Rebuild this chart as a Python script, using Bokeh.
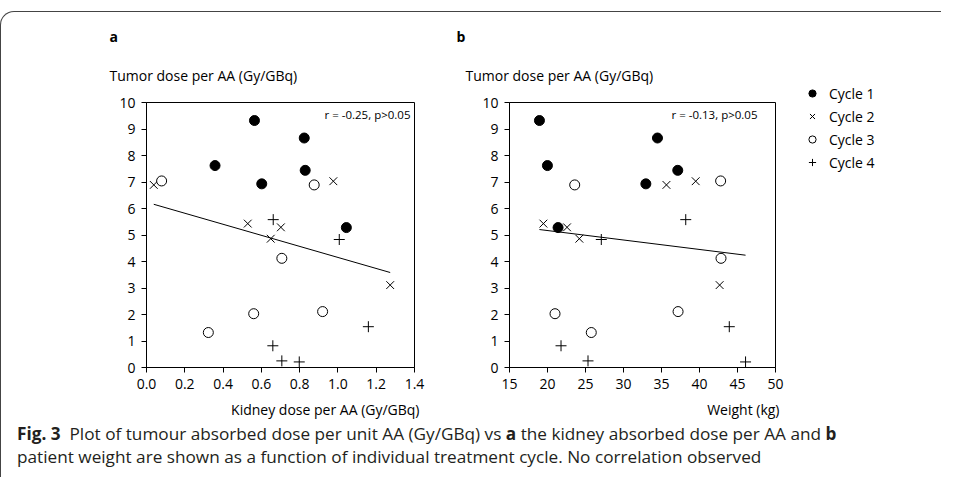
import numpy as np
from bokeh.plotting import figure
from bokeh.models import (Range1d, FixedTicker, NumeralTickFormatter, Label,
                          Legend, LegendItem, Div, Title, Spacer)
from bokeh.layouts import column, row
from bokeh.embed import file_html
from bokeh.resources import INLINE

# ---------------- data ----------------
cycles = ["Cycle 1", "Cycle 2", "Cycle 3", "Cycle 4"]
tumor_c1 = [9.32, 8.66, 7.62, 7.44, 6.93, 5.28]
tumor_c2 = [6.89, 7.03, 5.43, 5.29, 4.86, 3.11]
tumor_c3 = [7.04, 6.89, 4.12, 2.03, 1.32, 2.11]
tumor_c4 = [5.58, 4.83, 0.82, 0.25, 0.21, 1.54]

kidney_c1 = [0.564, 0.824, 0.358, 0.829, 0.602, 1.044]
kidney_c2 = [0.038, 0.976, 0.529, 0.702, 0.649, 1.273]
kidney_c3 = [0.079, 0.876, 0.707, 0.560, 0.323, 0.920]
kidney_c4 = [0.662, 1.007, 0.660, 0.707, 0.798, 1.159]

weight_c1 = [18.94, 34.47, 19.99, 37.14, 32.94, 21.39]
weight_c2 = [35.65, 39.50, 19.46, 22.57, 24.19, 42.65]
weight_c3 = [42.78, 23.58, 42.83, 20.99, 25.76, 37.18]
weight_c4 = [38.19, 27.08, 21.78, 25.33, 46.06, 43.92]

kidney_ticks = [0.0, 0.2, 0.4, 0.6, 0.8, 1.0, 1.2, 1.4]
weight_ticks = [15, 20, 25, 30, 35, 40, 45, 50]
tumor_ticks = list(range(0, 11))

ytitle = "Tumor dose per AA (Gy/GBq)"
stats_a = "r = -0.25, p>0.05"
stats_b = "r = -0.13, p>0.05"

FONT = "Open Sans"
TUMOR = [tumor_c1, tumor_c2, tumor_c3, tumor_c4]
WEIGHT = [weight_c1, weight_c2, weight_c3, weight_c4]
MARKERS = [dict(marker="circle", size=10, fill_color="black", line_color="black"),
           dict(marker="x", size=11, line_color="black", line_width=1),
           dict(marker="circle", size=10, fill_color="white", line_color="black",
                line_width=1),
           dict(marker="cross", size=11, line_color="black", line_width=1)]

H = 416  # 90 top + 265 frame + 61 bottom


def make_panel(xs, xr, xticks, fmt, width, bl, br, letter, xtitle, stats,
               stats_x, letter_off, title_off, xtitle_off):
    p = figure(width=width, height=H, output_backend="svg",
               toolbar_location=None, x_range=Range1d(*xr), y_range=Range1d(0, 10),
               min_border_left=bl, min_border_right=br, min_border_top=90,
               min_border_bottom=61)
    p.xgrid.visible = False
    p.ygrid.visible = False
    p.outline_line_color = "black"
    p.outline_line_width = 1
    p.background_fill_color = None
    p.border_fill_color = None
    for ax, ticks in ((p.xaxis[0], xticks), (p.yaxis[0], tumor_ticks)):
        ax.ticker = FixedTicker(ticks=ticks)
        ax.minor_tick_line_color = None
        ax.major_tick_in = 0
        ax.major_tick_out = 5
        ax.axis_line_color = "black"
        ax.major_tick_line_color = "black"
        ax.major_label_text_font = FONT
        ax.major_label_text_font_size = "14px"
        ax.major_label_text_color = "black"
        ax.major_label_standoff = 6
    if fmt:
        p.xaxis[0].formatter = NumeralTickFormatter(format=fmt)

    for xv, yv, mk in zip(xs, TUMOR, MARKERS):
        p.scatter(xv, yv, **mk)

    allx = np.concatenate([np.asarray(v, float) for v in xs])
    ally = np.concatenate([np.asarray(v, float) for v in TUMOR])
    slope, icpt = np.polyfit(allx, ally, 1)
    lx = np.array([allx.min(), allx.max()])
    p.line(lx, slope * lx + icpt, line_color="black", line_width=1)

    p.add_layout(Label(x=stats_x, y=253, x_units="screen", y_units="screen",
                       text=stats, text_font=FONT, text_font_size="11.5px",
                       text_align="right", text_baseline="middle",
                       text_color="black"))

    # header texts (closest to the frame first)
    p.add_layout(Title(text=ytitle, align="left", offset=title_off, standoff=36,
                       text_font=FONT, text_font_size="14px",
                       text_font_style="normal", text_color="black"), "above")
    p.add_layout(Title(text=letter, align="left", offset=letter_off, standoff=0,
                       text_font=FONT, text_font_size="14px",
                       text_font_style="bold", text_color="black"), "above")
    p.add_layout(Title(text=xtitle, align="right", offset=xtitle_off, standoff=12,
                       text_font=FONT, text_font_size="14px",
                       text_font_style="normal", text_color="black"), "below")
    return p


pa = make_panel([kidney_c1, kidney_c2, kidney_c3, kidney_c4], (0, 1.4),
                kidney_ticks, "0.0", 436, 145, 23, "a",
                "Kidney dose per AA (Gy/GBq)", stats_a, 264, -37, -37, -5)
pb = make_panel(WEIGHT, (15, 50),
                weight_ticks, None, 348, 72, 10, "b", "Weight (kg)", stats_b,
                248, -53, -44, -4)

# legend panel: the cycle series again (outside its view), only their legend shows
pl = figure(width=153, height=100, output_backend="svg", toolbar_location=None,
            x_range=Range1d(0, 1), y_range=Range1d(0, 1), x_axis_type=None,
            y_axis_type=None, min_border_left=18, min_border_right=0,
            min_border_top=0, min_border_bottom=0)
pl.grid.visible = False
pl.outline_line_color = None
pl.background_fill_color = None
pl.border_fill_color = None
rends = [pl.scatter(xv, yv, **mk) for xv, yv, mk in zip(WEIGHT, TUMOR, MARKERS)]
leg = Legend(items=[LegendItem(label=c, renderers=[r]) for c, r in zip(cycles, rends)],
             location="top_left", orientation="vertical",
             label_text_font=FONT, label_text_font_size="14px",
             label_text_color="black", glyph_width=18, glyph_height=20,
             label_height=20, spacing=3, padding=0, margin=0,
             label_standoff=8, border_line_color=None, background_fill_alpha=0)
pl.add_layout(leg, "center")
legend_col = column(Spacer(height=71, width=10), pl)

caption = Div(
    text=('<b>Fig. 3</b>&nbsp; Plot of tumour absorbed dose per unit AA (Gy/GBq) vs '
          '<b>a</b> the kidney absorbed dose per AA and <b>b</b><br>'
          'patient weight are shown as a function of individual treatment cycle. '
          'No correlation observed'),
    width=930, height=50,
    styles={"font-family": "Open Sans", "font-size": "17.2px", "line-height": "23px",
            "color": "#231f20", "padding-left": "11px", "margin-top": "-6px",
            "white-space": "nowrap"})

boxed = column(row(pa, pb, legend_col), caption,
               styles={"border-top": "1px solid #444", "border-left": "1px solid #444",
                       "border-top-left-radius": "14px"})
layout = column(Spacer(height=11, width=10), boxed)

open("out.html", "w").write(file_html(layout, INLINE))
